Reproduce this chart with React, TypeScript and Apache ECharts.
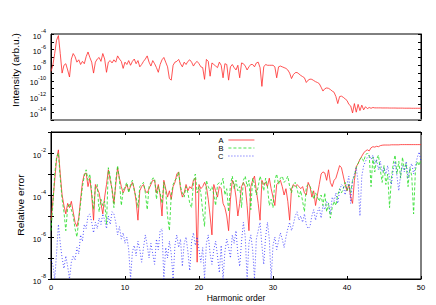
import React, { useEffect, useRef } from "react";
import * as echarts from "echarts";

// Harmonic-order grid spacing of the sampled data
const harmonicStep = 0.25;

// Top panel: intensity, log10 exponents (arb.u.)
const intensityExp = [
  -8.8, -8.0, -6.5, -4.8,
  -4.2, -6.5, -9.0, -8.0,
  -7.8, -8.6, -9.5, -7.2,
  -6.5, -6.9, -7.6, -7.3,
  -7.9, -7.5, -7.8, -6.9,
  -6.3, -7.0, -7.6, -9.0,
  -7.6, -7.2, -7.0, -7.5,
  -6.5, -7.2, -8.9, -7.6,
  -7.4, -7.7, -7.3, -7.6,
  -6.8, -7.2, -7.5, -8.4,
  -7.6, -7.9, -7.4, -8.0,
  -7.5, -7.2, -7.8, -7.4,
  -8.2, -7.9, -7.5, -7.2,
  -6.8, -7.6, -8.1, -7.4,
  -7.8, -8.3, -8.9, -7.9,
  -7.3, -7.0, -7.6, -8.2,
  -9.7, -9.9, -8.0, -7.6,
  -7.5, -7.25, -7.8, -8.2,
  -7.6, -7.9, -7.5, -7.3,
  -7.6, -8.1, -7.7, -7.5,
  -7.8, -8.2, -8.3, -9.8,
  -7.25, -7.5, -9.4, -7.7,
  -7.9, -8.1, -8.3, -7.6,
  -8.0, -9.6, -7.8, -7.9,
  -9.9, -8.2, -7.9, -8.3,
  -8.6, -8.0, -9.6, -7.7,
  -7.8, -8.1, -8.6, -8.2,
  -7.9, -7.9, -8.2, -7.7,
  -7.6, -8.3, -10.7, -8.2,
  -7.9, -8.0, -8.0, -8.0,
  -8.0, -8.2, -9.6, -8.2,
  -8.1, -8.2, -8.3, -8.4,
  -8.6, -9.0, -9.7, -9.2,
  -8.95, -8.92, -9.1, -9.3,
  -9.45, -9.6, -10.2, -9.9,
  -9.77, -9.8, -9.95, -10.1,
  -10.2, -10.35, -10.8, -11.3,
  -11.0, -10.9, -10.95, -11.1,
  -11.3, -11.45, -12.0, -12.9,
  -12.0, -11.95, -12.1, -12.3,
  -12.5, -13.0, -13.2, -14.1,
  -12.9, -14.0, -13.0, -13.8,
  -13.1, -13.7, -13.3, -13.55,
  -13.4, -13.5, -13.4, -13.45,
  -13.45, -13.45, -13.45, -13.46,
  -13.46, -13.46, -13.46, -13.47,
  -13.47, -13.47, -13.47, -13.48,
  -13.48, -13.48, -13.48, -13.49,
  -13.49, -13.49, -13.49, -13.5,
  -13.5, -13.5, -13.5, -13.5,
  -13.5,
];

// Bottom panel: relative error, log10 exponents
const errorAExp = [
  -5.2, -4.3, -3.3, -2.3,
  -1.85, -3.0, -4.0, -4.5,
  -4.9, -4.4, -4.6, -4.3,
  -4.8, -5.3, -5.5, -5.1,
  -4.2, -3.4, -3.0, -2.95,
  -3.6, -3.2, -4.0, -5.2,
  -3.5, -3.7, -3.9, -4.4,
  -4.9, -4.1, -3.5, -2.8,
  -3.3, -3.7, -4.4, -3.5,
  -2.7, -3.2, -3.6, -3.9,
  -3.7, -3.5, -3.8, -3.6,
  -3.4, -3.7, -4.3, -5.2,
  -3.8, -3.6, -3.5, -3.8,
  -3.9, -3.7, -3.5, -3.3,
  -3.3, -3.9, -3.5, -4.0,
  -5.0, -3.3, -3.7, -4.1,
  -3.8, -4.2, -3.6, -3.4,
  -3.0, -2.9, -3.7, -4.1,
  -3.9, -3.5, -3.8, -3.6,
  -3.7, -3.3, -3.2, -7.2,
  -3.5, -3.7, -3.6, -3.4,
  -3.6, -4.2, -5.0, -5.9,
  -3.5, -3.8, -4.1, -3.6,
  -3.7, -4.4, -4.6, -5.0,
  -5.7, -4.2, -3.3, -3.5,
  -4.1, -5.0, -4.4, -3.6,
  -3.4, -3.6, -4.5, -5.7,
  -3.6, -3.3, -3.1, -3.8,
  -4.4, -5.2, -3.3, -3.5,
  -3.4, -3.6, -3.2, -3.7,
  -4.1, -4.5, -3.5, -3.4,
  -3.3, -3.6, -4.0, -3.7,
  -4.3, -5.2, -3.7, -3.5,
  -3.6, -3.5, -3.6, -3.7,
  -3.6, -3.9, -4.0, -3.4,
  -3.6, -4.1, -3.8, -4.5,
  -4.0, -3.5, -3.0, -2.9,
  -2.95, -3.3, -2.8, -3.4,
  -3.6, -3.3, -3.2, -2.9,
  -2.6, -2.7, -3.1, -3.5,
  -3.8, -3.5, -4.1, -4.4,
  -3.3, -2.65, -2.5, -2.3,
  -2.15, -2.0, -1.9, -1.85,
  -1.9, -1.75, -1.7, -1.72,
  -1.68, -1.7, -1.65, -1.63,
  -1.62, -1.62, -1.62, -1.62,
  -1.61, -1.61, -1.61, -1.61,
  -1.61, -1.6, -1.6, -1.6,
  -1.6, -1.6, -1.6, -1.6,
  -1.6, -1.6, -1.6, -1.6,
  -1.6,
];

const errorBExp = [
  -5.7, -4.5, -3.0, -2.2,
  -2.0, -3.2, -4.2, -4.8,
  -5.7, -4.6, -4.4, -4.7,
  -5.0, -5.6, -6.0, -5.2,
  -4.4, -3.6, -3.1, -2.8,
  -3.3, -3.0, -3.9, -4.7,
  -3.6, -3.5, -4.8, -4.2,
  -4.5, -4.3, -5.4, -2.7,
  -3.1, -3.8, -4.6, -3.3,
  -2.6, -3.3, -4.5, -3.8,
  -3.6, -3.4, -3.9, -3.5,
  -3.3, -3.8, -4.1, -4.6,
  -3.6, -3.5, -3.4, -3.9,
  -4.7, -3.6, -3.4, -3.2,
  -3.2, -4.2, -3.6, -3.9,
  -4.4, -3.4, -3.8, -5.0,
  -5.7, -4.0, -3.5, -3.3,
  -3.2, -2.9, -3.6, -3.9,
  -4.1, -3.6, -3.9, -4.4,
  -4.6, -3.4, -3.0, -3.9,
  -3.6, -3.9, -4.8, -5.5,
  -3.3, -3.6, -3.8, -3.6,
  -4.0, -4.5, -3.5, -3.4,
  -3.5, -3.2, -4.0, -3.7,
  -4.8, -3.5, -3.1, -3.7,
  -3.3, -3.8, -3.6, -4.6,
  -3.3, -3.1, -3.6, -3.3,
  -4.7, -3.2, -3.5, -4.0,
  -3.6, -3.1, -3.4, -3.8,
  -3.2, -3.6, -4.5, -4.2,
  -4.6, -3.3, -3.0, -3.5,
  -3.2, -3.1, -3.4, -3.3,
  -3.1, -3.6, -3.9, -3.5,
  -3.4, -3.7, -4.1, -3.8,
  -4.3, -4.8, -3.6, -3.5,
  -3.6, -3.8, -4.2, -3.9,
  -4.1, -4.3, -4.0, -4.5,
  -3.9, -4.8, -4.4, -5.1,
  -4.6, -4.3, -4.5, -4.0,
  -3.7, -3.9, -3.7, -3.4,
  -3.8, -3.5, -3.9, -3.3,
  -3.1, -2.7, -2.5, -2.3,
  -2.2, -2.4, -2.1, -2.0,
  -2.1, -3.6, -2.2, -2.9,
  -2.3, -2.1, -2.8, -3.4,
  -2.6, -3.5, -3.0, -4.6,
  -3.2, -2.5, -2.1, -3.0,
  -2.4, -3.2, -2.2, -2.8,
  -2.5, -3.6, -2.7, -3.1,
  -4.9, -2.8, -2.4, -2.6,
  -2.3,
];

const errorCExp = [
  -7.1, -7.3, -8.0, -6.8,
  -5.4, -6.3, -7.0, -7.5,
  -6.9, -7.4, -8.0, -7.2,
  -6.9, -7.1, -6.5, -6.8,
  -5.9, -6.2, -5.4, -5.6,
  -5.0, -4.9, -5.3, -5.8,
  -5.3, -5.6, -5.1, -5.4,
  -4.9, -5.2, -5.6, -5.0,
  -5.4, -4.8, -4.9, -5.3,
  -5.9, -5.5, -6.1, -5.8,
  -6.3, -6.0, -6.6, -8.0,
  -6.7, -6.4, -6.9, -6.2,
  -6.6, -7.2, -6.5, -5.9,
  -6.4, -7.0, -6.3, -6.8,
  -7.3, -6.1, -6.6, -5.7,
  -5.6, -8.0, -6.5, -7.0,
  -6.2, -6.8, -8.0, -6.4,
  -5.9, -6.5, -6.1, -7.4,
  -6.3, -6.0, -6.7, -7.6,
  -6.2, -5.8, -6.4, -6.0,
  -6.6, -7.2, -6.5, -8.0,
  -6.3, -5.9, -6.8, -7.3,
  -6.6, -6.2, -6.9, -7.7,
  -6.4, -8.0, -6.7, -6.1,
  -6.5, -7.0, -5.9, -6.3,
  -5.7, -6.8, -7.4, -6.2,
  -5.3, -6.0, -8.0, -6.3,
  -5.9, -6.6, -8.0, -6.1,
  -5.7, -5.3, -6.4, -7.3,
  -6.0, -5.3, -6.1, -8.0,
  -6.4, -6.0, -6.6, -6.2,
  -5.8, -6.1, -6.5, -6.0,
  -5.6, -5.3, -5.7, -5.4,
  -5.0, -4.8, -5.2, -5.0,
  -5.3, -4.9, -5.4, -5.6,
  -5.5, -5.0, -4.7, -5.2,
  -4.8, -4.6, -5.1, -4.5,
  -4.7, -4.3, -4.4, -4.9,
  -4.1, -4.3, -3.9, -4.4,
  -3.8, -3.5, -3.6, -4.0,
  -3.5, -3.1, -4.4, -3.3,
  -3.0, -2.7, -3.4, -5.0,
  -3.1, -2.6, -2.4, -2.2,
  -2.1, -2.3, -2.1, -2.5,
  -2.3, -2.8, -2.4, -2.9,
  -2.7, -3.0, -2.6, -3.2,
  -3.5, -2.8, -2.4, -3.1,
  -3.8, -3.0, -2.6, -2.9,
  -2.4, -3.2, -2.7, -2.5,
  -3.0, -2.6, -2.2, -1.95,
  -2.4,
];

const seriesNames = ["A", "B", "C"];
const intensityLabelExps = [-4, -6, -8, -10, -12, -14];
const errorLabelExps = [-2, -4, -6, -8];
const xTitle = "Harmonic order";
const yTitleTop = "Intensity (arb.u.)";
const yTitleBottom = "Relative error";

const FONT = "'Liberation Sans', Arial, Helvetica, sans-serif";

const toPairs = (arr: number[]) => arr.map((v, i) => [i * harmonicStep, v]);

const rich = {
  b: { fontSize: 7.5, fontFamily: FONT, color: "#000", lineHeight: 12, verticalAlign: "bottom" },
  s: { fontSize: 5.5, fontFamily: FONT, color: "#000", lineHeight: 6, verticalAlign: "top" },
};

const powLabel = (shown: number[]) => (v: number) =>
  shown.includes(Math.round(v)) ? `{b|10}{s|${Math.round(v)}}` : "";

export default function App() {
  const ref = useRef<HTMLDivElement>(null);

  useEffect(() => {
    if (!ref.current) return;
    const chart = echarts.init(ref.current, undefined, { renderer: "svg" });

    const tickIn = (len: number) => ({ show: true, inside: true, length: len, lineStyle: { color: "#000", width: 1 } });
    const blackLine = { show: true, lineStyle: { color: "#000", width: 1 } };

    chart.setOption({
      animation: false,
      backgroundColor: "#fff",
      grid: [
        { left: 51, top: 34, width: 370, height: 86, show: true, borderColor: "#000", borderWidth: 1, backgroundColor: "transparent" },
        { left: 51, top: 132, width: 370, height: 147, show: true, borderColor: "#000", borderWidth: 1, backgroundColor: "transparent" },
      ],
      xAxis: [
        {
          gridIndex: 0, type: "value", min: 0, max: 50, interval: 10,
          axisLine: { show: true, lineStyle: { color: "#8a8a8a", width: 2 } },
          axisTick: { show: false }, axisLabel: { show: false }, splitLine: { show: false },
        },
        {
          gridIndex: 1, type: "value", min: 0, max: 50, interval: 10, position: "bottom",
          axisLine: blackLine, axisTick: tickIn(3), splitLine: { show: false },
          axisLabel: { fontSize: 7.5, fontFamily: FONT, color: "#000", margin: 4 },
          name: xTitle, nameLocation: "middle", nameGap: 14,
          nameTextStyle: { fontSize: 8.5, fontFamily: FONT, color: "#000" },
        },
        {
          gridIndex: 1, type: "value", min: 0, max: 50, interval: 10, position: "top",
          axisLine: blackLine, axisTick: tickIn(3), axisLabel: { show: false }, splitLine: { show: false },
        },
      ],
      yAxis: [
        {
          gridIndex: 0, type: "value", min: -15, max: -4, interval: 1, position: "left",
          axisLine: blackLine, axisTick: tickIn(3), splitLine: { show: false },
          axisLabel: { formatter: powLabel(intensityLabelExps), rich, margin: 5 },
        },
        {
          gridIndex: 0, type: "value", min: -15, max: -4, interval: 1, position: "right",
          axisLine: blackLine, axisTick: tickIn(3), axisLabel: { show: false }, splitLine: { show: false },
        },
        {
          gridIndex: 1, type: "value", min: -8, max: -1, interval: 1, position: "left",
          axisLine: blackLine, axisTick: tickIn(3), splitLine: { show: false },
          axisLabel: { formatter: powLabel(errorLabelExps), rich, margin: 5 },
        },
        {
          gridIndex: 1, type: "value", min: -8, max: -1, interval: 1, position: "right",
          axisLine: blackLine, axisTick: tickIn(3), axisLabel: { show: false }, splitLine: { show: false },
        },
      ],
      legend: {
        data: seriesNames,
        orient: "vertical",
        align: "right",
        left: 213,
        top: 131,
        itemWidth: 26,
        itemHeight: 8,
        itemGap: 0,
        itemTextGap: 5,
        selectedMode: false,
        itemStyle: { opacity: 0 },
        lineStyle: { width: 0.8 },
        textStyle: { fontSize: 7.5, fontFamily: FONT, color: "#000", lineHeight: 8 },
      },
      graphic: [
        {
          type: "text", x: 16.3, y: 70, rotation: Math.PI / 2, scaleX: 1.25,
          style: { text: yTitleTop, fontSize: 8.2, fontFamily: FONT, fill: "#000", align: "center", verticalAlign: "middle" },
        },
        {
          type: "text", x: 21.7, y: 205, rotation: Math.PI / 2, scaleX: 1.25,
          style: { text: yTitleBottom, fontSize: 8.2, fontFamily: FONT, fill: "#000", align: "center", verticalAlign: "middle" },
        },
      ],
      series: [
        {
          type: "line", name: "Intensity", xAxisIndex: 0, yAxisIndex: 0,
          data: toPairs(intensityExp), symbol: "none", showSymbol: false,
          lineStyle: { color: "#ff2a2a", width: 0.8 }, itemStyle: { color: "#ff2a2a" },
        },
        {
          type: "line", name: "A", xAxisIndex: 1, yAxisIndex: 2,
          data: toPairs(errorAExp), symbol: "none", showSymbol: false,
          lineStyle: { color: "#ff2a2a", width: 0.8 }, itemStyle: { color: "#ff2a2a" },
        },
        {
          type: "line", name: "B", xAxisIndex: 1, yAxisIndex: 2,
          data: toPairs(errorBExp), symbol: "none", showSymbol: false,
          lineStyle: { color: "#1fdc1f", width: 0.8, type: [3, 2] }, itemStyle: { color: "#1fdc1f" },
        },
        {
          type: "line", name: "C", xAxisIndex: 1, yAxisIndex: 2,
          data: toPairs(errorCExp), symbol: "none", showSymbol: false,
          lineStyle: { color: "#2a2aff", width: 0.8, type: [1, 2] }, itemStyle: { color: "#2a2aff" },
        },
      ],
    });

    return () => chart.dispose();
  }, []);

  return (
    <div
      ref={ref}
      style={{ position: "fixed", left: 0, top: 0, width: 436, height: 305, background: "#fff" }}
    />
  );
}
